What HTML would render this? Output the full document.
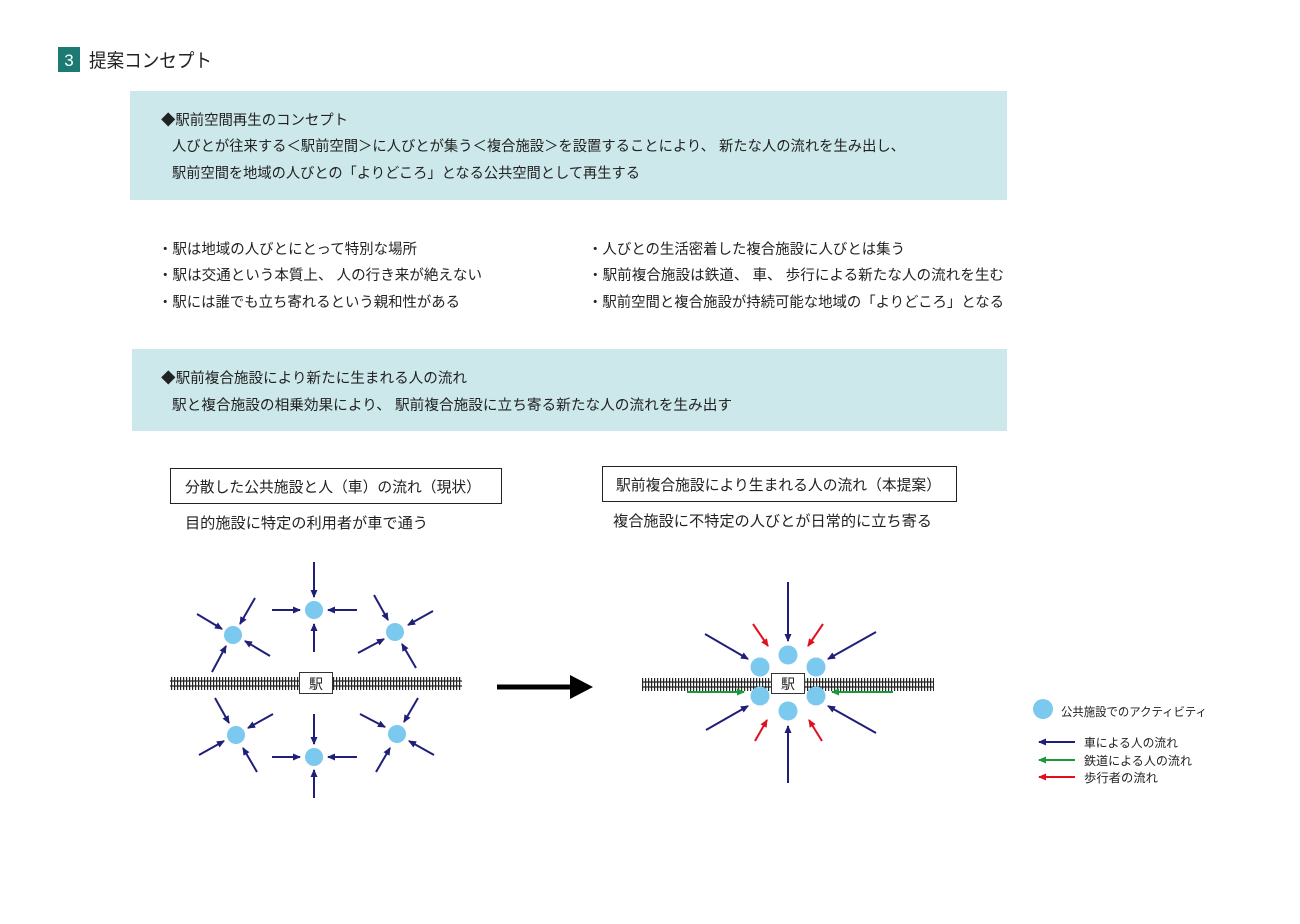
<!DOCTYPE html>
<html><head><meta charset="utf-8"><style>
html,body{margin:0;padding:0;background:#fff}
svg text{font-family:"Liberation Sans","Noto Sans CJK JP",sans-serif;fill:#222}
</style></head><body>
<svg width="1300" height="919" viewBox="0 0 1300 919" xmlns="http://www.w3.org/2000/svg">
<defs>
<marker id="mb" markerWidth="8" markerHeight="8" refX="7" refY="4" orient="auto" markerUnits="userSpaceOnUse"><path d="M0,0.5 L8,4 L0,7.5 Z" fill="#1f1f7a"/></marker>
<marker id="mr" markerWidth="8" markerHeight="8" refX="7" refY="4" orient="auto" markerUnits="userSpaceOnUse"><path d="M0,0.5 L8,4 L0,7.5 Z" fill="#e0101e"/></marker>
<marker id="mg" markerWidth="8" markerHeight="8" refX="7" refY="4" orient="auto" markerUnits="userSpaceOnUse"><path d="M0,0.5 L8,4 L0,7.5 Z" fill="#1a9a3c"/></marker>
<pattern id="ties" width="3" height="14" patternUnits="userSpaceOnUse"><rect x="0" y="0" width="1.2" height="14" fill="#222"/></pattern>
</defs>

<rect x="58" y="47" width="22" height="25" fill="#1c7a72"/>
<text x="69" y="66" font-size="17" text-anchor="middle" style="fill:#fff">3</text>
<text x="89" y="67" font-size="19" textLength="123" lengthAdjust="spacingAndGlyphs">提案コンセプト</text>

<rect x="130" y="91" width="877" height="109" fill="#cce8ea"/>
<g font-size="14.5">
<text x="161" y="125" textLength="187" lengthAdjust="spacingAndGlyphs">◆駅前空間再生のコンセプト</text>
<text x="172" y="151" textLength="733" lengthAdjust="spacingAndGlyphs">人びとが往来する＜駅前空間＞に人びとが集う＜複合施設＞を設置することにより、 新たな人の流れを生み出し、</text>
<text x="172" y="178" textLength="468" lengthAdjust="spacingAndGlyphs">駅前空間を地域の人びとの「よりどころ」となる公共空間として再生する</text>

<text x="158" y="254" textLength="259" lengthAdjust="spacingAndGlyphs">・駅は地域の人びとにとって特別な場所</text>
<text x="158" y="280" textLength="324" lengthAdjust="spacingAndGlyphs">・駅は交通という本質上、 人の行き来が絶えない</text>
<text x="158" y="307" textLength="302" lengthAdjust="spacingAndGlyphs">・駅には誰でも立ち寄れるという親和性がある</text>
<text x="588" y="254" textLength="317" lengthAdjust="spacingAndGlyphs">・人びとの生活密着した複合施設に人びとは集う</text>
<text x="588" y="280" textLength="416" lengthAdjust="spacingAndGlyphs">・駅前複合施設は鉄道、 車、 歩行による新たな人の流れを生む</text>
<text x="588" y="307" textLength="416" lengthAdjust="spacingAndGlyphs">・駅前空間と複合施設が持続可能な地域の「よりどころ」となる</text>
</g>

<rect x="132" y="349" width="875" height="82" fill="#cce8ea"/>
<g font-size="14.5">
<text x="161" y="383" textLength="306" lengthAdjust="spacingAndGlyphs">◆駅前複合施設により新たに生まれる人の流れ</text>
<text x="172" y="410" textLength="560" lengthAdjust="spacingAndGlyphs">駅と複合施設の相乗効果により、 駅前複合施設に立ち寄る新たな人の流れを生み出す</text>
</g>

<rect x="170.5" y="468.5" width="331" height="35" fill="#fff" stroke="#222"/>
<g font-size="15">
<text x="185" y="492" textLength="296" lengthAdjust="spacingAndGlyphs">分散した公共施設と人（車）の流れ（現状）</text>
<text x="185" y="528" textLength="243" lengthAdjust="spacingAndGlyphs">目的施設に特定の利用者が車で通う</text>
</g>
<rect x="602.5" y="466.5" width="354" height="35" fill="#fff" stroke="#222"/>
<g font-size="15">
<text x="616" y="490" textLength="325" lengthAdjust="spacingAndGlyphs">駅前複合施設により生まれる人の流れ（本提案）</text>
<text x="613" y="526" textLength="319" lengthAdjust="spacingAndGlyphs">複合施設に不特定の人びとが日常的に立ち寄る</text>
</g>

<!-- left diagram -->
<g>
<rect x="170" y="677" width="292" height="13" fill="url(#ties)"/>
<line x1="170" y1="681" x2="462" y2="681" stroke="#222" stroke-width="1.3"/>
<line x1="170" y1="686" x2="462" y2="686" stroke="#222" stroke-width="1.3"/>
<rect x="299.5" y="672.5" width="33" height="21" fill="#fff" stroke="#333"/>
<text x="316" y="689" font-size="14" text-anchor="middle">駅</text>
<g fill="#7cc9f0">
<circle cx="233" cy="635" r="9"/><circle cx="314" cy="610" r="9"/><circle cx="395" cy="632" r="9"/>
<circle cx="236" cy="735" r="9"/><circle cx="314" cy="757" r="9"/><circle cx="397" cy="734" r="9"/>
</g>
<g stroke="#1f1f7a" stroke-width="2" marker-end="url(#mb)">
<line x1="197" y1="614" x2="222" y2="629"/><line x1="255" y1="598" x2="240" y2="624"/><line x1="270" y1="656" x2="245" y2="641"/><line x1="212" y1="672" x2="226" y2="646"/>
<line x1="314" y1="562" x2="314" y2="597"/><line x1="272" y1="610" x2="300" y2="610"/><line x1="357" y1="610" x2="328" y2="610"/><line x1="314" y1="652" x2="314" y2="624"/>
<line x1="374" y1="595" x2="388" y2="620"/><line x1="433" y1="611" x2="408" y2="625"/><line x1="358" y1="653" x2="384" y2="639"/><line x1="416" y1="668" x2="402" y2="644"/>
<line x1="215" y1="698" x2="229" y2="723"/><line x1="273" y1="714" x2="248" y2="728"/><line x1="199" y1="755" x2="224" y2="741"/><line x1="257" y1="772" x2="243" y2="748"/>
<line x1="314" y1="714" x2="314" y2="744"/><line x1="272" y1="757" x2="300" y2="757"/><line x1="357" y1="757" x2="328" y2="757"/><line x1="314" y1="798" x2="314" y2="770"/>
<line x1="360" y1="714" x2="385" y2="727"/><line x1="418" y1="698" x2="404" y2="722"/><line x1="434" y1="755" x2="409" y2="741"/><line x1="376" y1="772" x2="390" y2="748"/>
</g>
</g>

<!-- big arrow -->
<line x1="497" y1="687" x2="572" y2="687" stroke="#000" stroke-width="5"/>
<polygon points="570,675 593,687 570,699" fill="#000"/>

<!-- right diagram -->
<g>
<rect x="642" y="678" width="292" height="13" fill="url(#ties)"/>
<line x1="642" y1="682" x2="934" y2="682" stroke="#222" stroke-width="1.3"/>
<line x1="642" y1="687" x2="934" y2="687" stroke="#222" stroke-width="1.3"/>
<g fill="#7cc9f0">
<circle cx="760" cy="667" r="9.5"/><circle cx="788" cy="655" r="9.5"/><circle cx="816" cy="667" r="9.5"/>
<circle cx="760" cy="696" r="9.5"/><circle cx="788" cy="711" r="9.5"/><circle cx="816" cy="696" r="9.5"/>
</g>
<rect x="771.5" y="673.5" width="33" height="20" fill="#fff" stroke="#333"/>
<text x="788" y="689" font-size="14" text-anchor="middle">駅</text>
<g stroke="#1f1f7a" stroke-width="2" marker-end="url(#mb)">
<line x1="788" y1="582" x2="788" y2="641"/><line x1="705" y1="634" x2="748" y2="659"/><line x1="876" y1="632" x2="828" y2="659"/>
<line x1="706" y1="730" x2="748" y2="706"/><line x1="876" y1="733" x2="828" y2="706"/><line x1="788" y1="783" x2="788" y2="726"/>
</g>
<g stroke="#e0101e" stroke-width="2" marker-end="url(#mr)">
<line x1="753" y1="624" x2="768" y2="646"/><line x1="823" y1="624" x2="808" y2="646"/>
<line x1="755" y1="741" x2="767" y2="720"/><line x1="822" y1="741" x2="809" y2="720"/>
</g>
<g stroke="#1a9a3c" stroke-width="2" marker-end="url(#mg)">
<line x1="687" y1="692" x2="744" y2="692"/><line x1="893" y1="692" x2="832" y2="692"/>
</g>
</g>

<!-- legend -->
<circle cx="1043" cy="709" r="10" fill="#7cc9f0"/>
<g font-size="12">
<text x="1061" y="716" textLength="146" lengthAdjust="spacingAndGlyphs">公共施設でのアクティビティ</text>
<text x="1084" y="747" textLength="94" lengthAdjust="spacingAndGlyphs">車による人の流れ</text>
<text x="1084" y="765" textLength="108" lengthAdjust="spacingAndGlyphs">鉄道による人の流れ</text>
<text x="1084" y="782" textLength="74" lengthAdjust="spacingAndGlyphs">歩行者の流れ</text>
</g>
<g stroke-width="2">
<line x1="1075" y1="742" x2="1039" y2="742" stroke="#1f1f7a" marker-end="url(#mb)"/>
<line x1="1075" y1="760" x2="1039" y2="760" stroke="#1a9a3c" marker-end="url(#mg)"/>
<line x1="1075" y1="777" x2="1039" y2="777" stroke="#e0101e" marker-end="url(#mr)"/>
</g>
</svg>
</body></html>
